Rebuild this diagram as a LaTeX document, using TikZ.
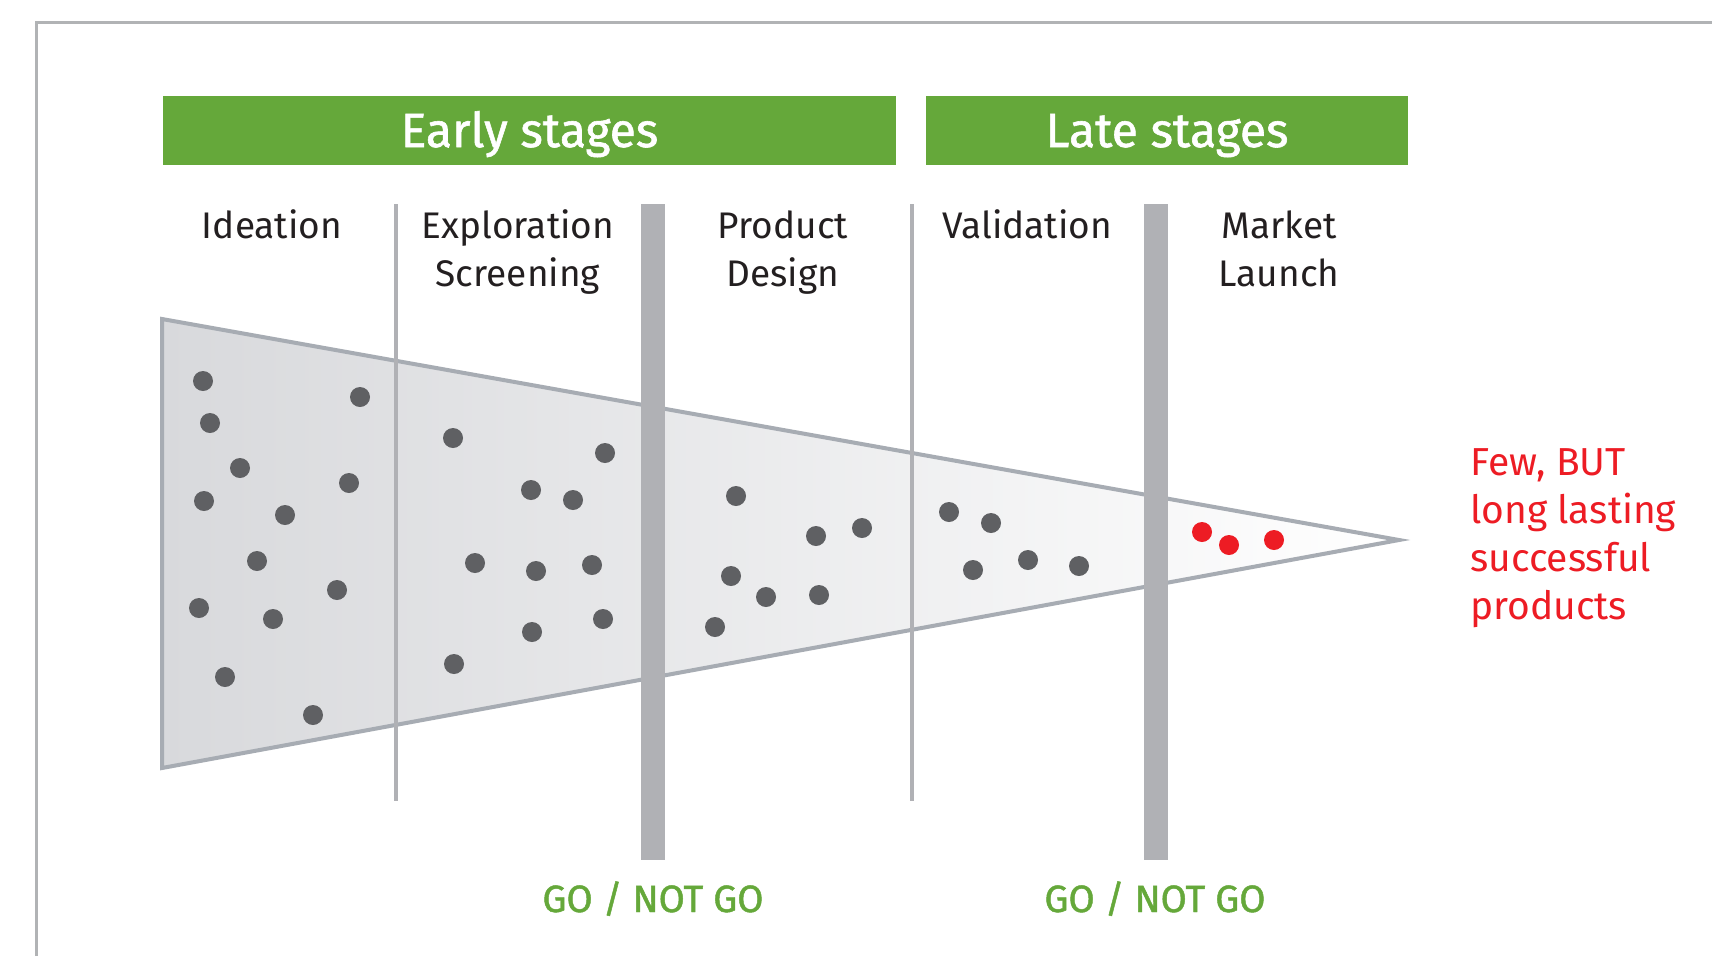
\documentclass[tikz,border=0pt]{standalone}
\usepackage{fontspec}
\setmainfont{Fira Sans}
\newfontfamily\heavier[FakeBold=1.2]{Fira Sans}
\definecolor{stagegreen}{HTML}{65A83A}
\definecolor{framegray}{HTML}{B1B3B5}
\definecolor{bargray}{HTML}{B0B1B5}
\definecolor{funnelline}{HTML}{A7ACB3}
\definecolor{funnelfill}{HTML}{D8D9DC}
\definecolor{dotgray}{HTML}{5F6063}
\definecolor{hotred}{HTML}{ED1C24}
\definecolor{textdark}{HTML}{231F20}
\begin{document}
\begin{tikzpicture}[x=1pt,y=-1pt,
  frame/.style={draw=framegray,line width=3pt},
  header/.style={fill=stagegreen,text=white,inner sep=0pt,minimum height=69pt,
    font=\heavier\fontsize{48pt}{52pt}\selectfont,text height=33pt,text depth=0pt},
  stagelabel/.style={text=textdark,inner sep=0pt,align=center,anchor=base,
    font=\fontsize{37pt}{48pt}\selectfont},
  thinbar/.style={draw=bargray,line width=3.5pt},
  thickbar/.style={fill=bargray},
  funnel/.style={draw=funnelline,line width=4pt,line join=miter,left color=funnelfill,right color=white},
  dot/.style={fill=dotgray},
  reddot/.style={fill=hotred},
  gate/.style={text=stagegreen,inner sep=0pt,anchor=base,font=\heavier\fontsize{38pt}{44pt}\selectfont},
  fewtext/.style={text=hotred,inner sep=0pt,align=left,anchor=base west,
    font=\fontsize{39pt}{47.7pt}\selectfont}
]
\useasboundingbox (0,0) rectangle (1712,956);
\fill[white] (0,0) rectangle (1712,956);
\draw[frame] (36,956) -- (36,22) -- (1712,22);

\node[header,minimum width=733pt] (early) at (529.5,130.5) {Early stages};
\node[header,minimum width=482pt] (late) at (1167,130.5) {Late stages};

\filldraw[funnel] (162,319) -- (1399,540) -- (162,768) -- cycle;

% dots
\foreach \p in {(203,381),(210,423),(360,397),(240,468),(204,501),(349,483),(285,515),(257,561),(337,590),(199,608),(273,619),(225,677),(313,715),
  (453,438),(605,453),(531,490),(573,500),(475,563),(536,571),(592,565),(603,619),(532,632),(454,664),
  (736,496),(816,536),(862,528),(731,576),(766,597),(819,595),(715,627),
  (949,512),(991,523),(973,570),(1028,560),(1079,566)}
  \fill[dot] \p circle[radius=10pt];
\foreach \p in {(1202,532),(1229,545),(1274,540)}
  \fill[reddot] \p circle[radius=10pt];

\draw[thinbar] (396,204) -- (396,801);
\draw[thinbar] (912,204) -- (912,801);
\fill[thickbar] (641,204) rectangle (665,860);
\fill[thickbar] (1144,204) rectangle (1168,860);

\node[stagelabel] (ideation) at (272,238) {Ideation};
\node[stagelabel] (explore) at (518,286) {Exploration\\Screening};
\node[stagelabel] (design) at (783,286) {Product\\Design};
\node[stagelabel] (valid) at (1027,238) {Validation};
\node[stagelabel] (launch) at (1279,286) {Market\\Launch};

\node[fewtext] (few) at (1470,619) {Few, BUT\\long lasting\\successful\\products};

\node[gate] (gate1) at (653,912) {GO / NOT GO};
\node[gate] (gate2) at (1155,912) {GO / NOT GO};
\end{tikzpicture}
\end{document}
